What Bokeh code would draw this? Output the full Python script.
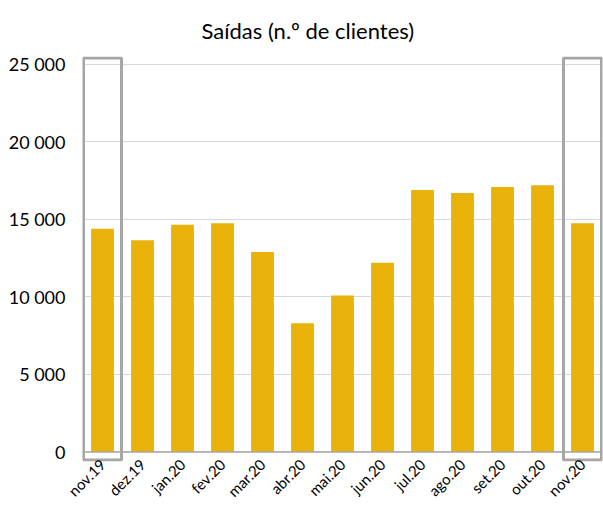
from bokeh.plotting import figure
from bokeh.models import FixedTicker, Range1d, ColumnDataSource, Span, Title
from bokeh.embed import file_html
from bokeh.resources import INLINE
import math

months = ["nov.19", "dez.19", "jan.20", "fev.20", "mar.20", "abr.20", "mai.20",
          "jun.20", "jul.20", "ago.20", "set.20", "out.20", "nov.20"]
values = [14400, 13650, 14650, 14750, 12900, 8300, 10100,
          12200, 16900, 16700, 17100, 17200, 14750]
y_ticks = [0, 5000, 10000, 15000, 20000, 25000]
y_tick_labels = ["0", "5 000", "10 000", "15 000", "20 000", "25 000"]
highlighted = ["nov.19", "nov.20"]
title_text = "Saídas (n.º de clientes)"

FONT = "Lato"
Y0, Y1 = -620, 25515

p = figure(x_range=months, y_range=Range1d(Y0, Y1),
           width=603, height=509, output_backend="svg", toolbar_location=None,
           min_border_left=82, min_border_right=1, min_border_top=56,
           min_border_bottom=46)
p.title = None
p.add_layout(Title(text=title_text, align="left", offset=119,
                   text_font=FONT, text_font_size="22px", text_font_style="normal",
                   text_color="#000000", standoff=26), "above")

p.outline_line_color = None
p.xgrid.grid_line_color = None
p.ygrid.grid_line_color = "#d9d9d9"
p.ygrid.grid_line_width = 1
p.ygrid.ticker = FixedTicker(ticks=y_ticks)

p.yaxis.ticker = FixedTicker(ticks=y_ticks)
p.yaxis.major_label_overrides = {t: l for t, l in zip(y_ticks, y_tick_labels)}
p.yaxis.axis_line_color = None
p.yaxis.major_tick_line_color = None
p.yaxis.minor_tick_line_color = None
p.yaxis.major_tick_in = 0
p.yaxis.major_tick_out = 0
p.yaxis.major_label_text_font = FONT
p.yaxis.major_label_text_font_size = "18px"
p.yaxis.major_label_text_color = "#000000"
p.yaxis.major_label_standoff = 17

p.xaxis.axis_line_color = None
p.xaxis.major_tick_line_color = None
p.xaxis.major_tick_in = 0
p.xaxis.major_tick_out = 0
p.xaxis.major_label_orientation = math.pi / 4
p.xaxis.major_label_text_font = FONT
p.xaxis.major_label_text_font_size = "15px"
p.xaxis.major_label_text_color = "#000000"
p.xaxis.major_label_standoff = 0

src = ColumnDataSource(dict(x=months, top=values))
p.vbar(x="x", top="top", width=0.57, source=src, fill_color="#E8B20B",
       line_color=None)

p.add_layout(Span(location=0, dimension="width", line_color="#a6a6a6", line_width=1.5))

# highlight boxes
p.rect(x=highlighted, y=[(Y1 - 100 + Y0 + 100) / 2] * 2, width=0.95,
       height=(Y1 - 100) - (Y0 + 100),
       fill_color=None, line_color="#a6a6a6", line_width=3)

open("out.html", "w").write(file_html(p, INLINE))
